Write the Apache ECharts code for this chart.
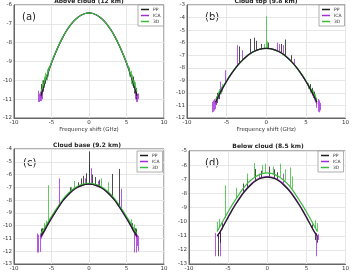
<!DOCTYPE html>
<html>
<head>
<meta charset="utf-8">
<script src="https://cdn.jsdelivr.net/npm/echarts@6/dist/echarts.min.js"></script>
<style>
	html, body { margin: 0; padding: 0; background: #fff; }
	#chart { width: 352px; height: 272px; }
</style>
</head>
<body>
<div id="chart"></div>
<script>
// frequency shift (GHz) sample points of the smooth spectra
const freq = [-6.4, -6, -5.5, -5, -4.5, -4, -3.5, -3, -2.5, -2, -1.5, -1, -0.5, 0, 0.5, 1, 1.5, 2, 2.5, 3, 3.5, 4, 4.5, 5, 5.5, 6, 6.4]

// (a) above cloud
const ppA = [-10.82, -10.26, -9.65, -9.07, -8.57, -8.12, -7.72, -7.37, -7.08, -6.84, -6.66, -6.53, -6.45, -6.42, -6.45, -6.53, -6.66, -6.84, -7.08, -7.37, -7.72, -8.12, -8.57, -9.07, -9.65, -10.26, -10.82]
const icaA = [-10.92, -10.3, -9.66, -9.08, -8.57, -8.12, -7.72, -7.37, -7.08, -6.84, -6.66, -6.53, -6.45, -6.42, -6.45, -6.53, -6.66, -6.84, -7.08, -7.37, -7.72, -8.12, -8.57, -9.08, -9.66, -10.3, -10.92]
const d3A = [-10.6, -10.15, -9.6, -9.05, -8.56, -8.11, -7.72, -7.37, -7.08, -6.84, -6.66, -6.53, -6.45, -6.42, -6.45, -6.53, -6.66, -6.84, -7.08, -7.37, -7.72, -8.11, -8.56, -9.05, -9.6, -10.15, -10.6]
// spikes: [shift, from, to]
const ppSpikesA = [[-6.3, -10.9, -10.2], [-6.1, -10.6, -10.0], [-5.9, -10.3, -9.9], [5.9, -10.4, -9.8], [6.1, -10.7, -10.1], [6.3, -11.0, -10.4]]
const icaSpikesA = [[-6.8, -11.15, -10.55], [-6.6, -11.15, -10.7], [-6.45, -11.1, -10.6], [-6.3, -11.1, -10.7], [-6.2, -11.0, -10.6], [6.2, -11.0, -10.6], [6.35, -11.15, -10.6], [6.5, -11.15, -10.7], [6.6, -11.0, -10.7]]
const d3SpikesA = [[-6.2, -10.6, -10.0], [-6.0, -10.4, -9.8], [-5.8, -10.2, -9.6], [-5.6, -10.0, -9.4], [-5.4, -9.8, -9.3], [5.4, -9.8, -9.3], [5.6, -10.2, -9.5], [5.8, -10.3, -9.7], [6.0, -10.6, -10.0], [6.2, -10.6, -10.1]]

// (b) cloud top
const ppB = [-10.75, -10.22, -9.62, -9.07, -8.57, -8.12, -7.73, -7.39, -7.1, -6.86, -6.68, -6.55, -6.47, -6.45, -6.47, -6.55, -6.68, -6.86, -7.1, -7.39, -7.73, -8.12, -8.57, -9.07, -9.62, -10.22, -10.75]
const icaB = [-10.9, -10.3, -9.65, -9.08, -8.58, -8.12, -7.73, -7.39, -7.1, -6.86, -6.68, -6.55, -6.47, -6.45, -6.47, -6.55, -6.68, -6.86, -7.1, -7.39, -7.73, -8.12, -8.58, -9.08, -9.65, -10.3, -10.9]
const d3B = [-10.55, -10.1, -9.55, -9.03, -8.55, -8.11, -7.73, -7.39, -7.1, -6.87, -6.69, -6.56, -6.48, -6.46, -6.48, -6.56, -6.69, -6.87, -7.1, -7.39, -7.73, -8.11, -8.55, -9.03, -9.55, -10.1, -10.55]
const ppSpikesB = [[-6.3, -10.95, -10.3], [-6.15, -10.8, -10.0], [-5.95, -10.5, -9.9], [-3.45, -7.7, -6.3], [-2.0, -6.86, -5.7], [-1.55, -6.68, -5.6], [-1.2, -6.6, -5.85], [-0.6, -6.48, -6.1], [0.3, -6.46, -6.0], [1.95, -6.85, -6.1], [2.4, -7.05, -5.75], [3.2, -7.5, -7.0], [5.5, -9.62, -9.3], [5.75, -10.2, -9.6], [6.0, -10.5, -9.9]]
const icaSpikesB = [[-6.85, -11.55, -10.7], [-6.7, -11.5, -10.6], [-6.55, -11.4, -10.5], [-6.4, -11.3, -10.6], [-5.75, -9.95, -9.1], [-5.2, -9.3, -8.2], [-3.6, -7.85, -6.2], [-3.0, -7.4, -6.6], [1.35, -6.62, -6.0], [1.6, -6.7, -6.1], [2.1, -6.9, -6.2], [3.5, -7.73, -7.3], [6.3, -11.2, -10.4], [6.5, -11.5, -10.5], [6.65, -11.55, -10.6], [6.8, -11.4, -10.8]]
const d3SpikesB = [[0.0, -6.46, -3.9], [0.15, -6.46, -5.9], [-0.25, -6.47, -6.1], [-6.1, -10.5, -9.9], [-5.9, -10.3, -9.7], [-5.7, -10.1, -9.5], [-5.5, -9.9, -9.3], [5.3, -9.7, -9.2], [5.6, -10.0, -9.5], [5.9, -10.4, -9.8], [6.2, -10.7, -10.1]]

// (c) cloud base
const ppC = [-10.85, -10.45, -9.92, -9.42, -8.95, -8.5, -8.07, -7.72, -7.42, -7.18, -7.0, -6.87, -6.78, -6.75, -6.78, -6.87, -7.0, -7.18, -7.42, -7.72, -8.07, -8.5, -8.95, -9.42, -9.92, -10.45, -10.85]
const icaC = [-10.95, -10.5, -9.95, -9.44, -8.96, -8.5, -8.07, -7.72, -7.42, -7.18, -7.0, -6.87, -6.78, -6.75, -6.78, -6.87, -7.0, -7.18, -7.42, -7.72, -8.07, -8.5, -8.96, -9.44, -9.95, -10.5, -10.95]
const d3C = [-10.6, -10.25, -9.75, -9.28, -8.82, -8.38, -7.96, -7.62, -7.33, -7.1, -6.92, -6.79, -6.71, -6.68, -6.71, -6.79, -6.92, -7.1, -7.33, -7.62, -7.96, -8.38, -8.82, -9.28, -9.75, -10.25, -10.6]
const ppSpikesC = [[0.0, -6.75, -4.2], [-0.3, -6.76, -5.9], [-0.7, -6.8, -6.1], [-1.0, -6.87, -6.3], [-1.4, -6.97, -6.6], [0.5, -6.78, -6.0], [0.9, -6.85, -6.2], [1.4, -6.97, -6.4], [3.13, -7.8, -5.95], [3.99, -8.5, -5.56], [-2.5, -7.42, -7.0], [-6.4, -10.85, -10.3], [-6.2, -10.7, -10.2], [5.8, -10.25, -9.8], [6.2, -10.7, -10.2], [6.35, -10.85, -10.3]]
const icaSpikesC = [[-3.9, -8.45, -6.3], [0.35, -6.77, -5.5], [-0.5, -6.78, -6.3], [1.2, -6.92, -6.5], [4.3, -8.8, -7.1], [-6.85, -12.1, -10.6], [-6.7, -12.1, -10.7], [-6.55, -12.05, -10.6], [-6.4, -11.0, -10.6], [6.1, -12.1, -10.5], [6.3, -12.1, -10.6], [6.45, -11.6, -10.7], [6.6, -12.0, -10.8]]
const d3SpikesC = [[-5.44, -9.6, -6.83], [-2.4, -7.37, -6.96], [0.05, -6.68, -5.2], [-1.9, -7.08, -6.5], [1.7, -6.98, -6.3], [2.6, -7.38, -6.6], [-6.3, -10.7, -10.2], [-6.0, -10.35, -9.8], [-5.7, -10.1, -9.6], [5.7, -10.1, -9.5], [6.0, -10.4, -9.9], [6.3, -10.7, -10.2]]

// (d) below cloud
const ppD = [-11.0, -10.7, -10.2, -9.7, -9.2, -8.75, -8.33, -7.95, -7.62, -7.35, -7.13, -6.97, -6.88, -6.85, -6.88, -6.97, -7.13, -7.35, -7.62, -7.95, -8.33, -8.75, -9.2, -9.7, -10.2, -10.7, -11.0]
const icaD = [-11.05, -10.72, -10.18, -9.66, -9.16, -8.7, -8.28, -7.9, -7.57, -7.3, -7.08, -6.93, -6.84, -6.81, -6.84, -6.93, -7.08, -7.3, -7.57, -7.9, -8.28, -8.7, -9.16, -9.66, -10.18, -10.72, -11.05]
const d3D = [-10.7, -10.3, -9.8, -9.3, -8.83, -8.4, -7.98, -7.6, -7.28, -7.02, -6.82, -6.67, -6.58, -6.55, -6.58, -6.67, -6.82, -7.02, -7.28, -7.6, -7.98, -8.4, -8.83, -9.3, -9.8, -10.3, -10.7]
const ppSpikesD = [[-3.05, -7.95, -7.3], [-1.56, -7.1, -6.27], [0.3, -6.86, -6.1], [0.9, -6.95, -6.3], [1.3, -7.02, -6.5], [-0.8, -6.93, -6.4], [-2.5, -7.62, -7.0], [-6.3, -12.45, -10.9], [-6.05, -11.5, -10.7], [-5.8, -10.55, -10.1], [5.8, -10.55, -10.2], [6.15, -11.3, -10.8], [6.4, -11.5, -11.0]]
const icaSpikesD = [[-6.6, -12.45, -10.8], [-6.2, -11.2, -10.8], [-6.0, -12.45, -10.7], [-1.0, -6.98, -6.6], [2.0, -7.3, -6.6], [6.23, -12.45, -10.8], [6.5, -11.3, -10.9]]
const d3SpikesD = [[-1.7, -6.9, -5.86], [-0.2, -6.56, -5.9], [-0.6, -6.6, -6.0], [0.8, -6.65, -6.1], [1.6, -6.85, -5.9], [2.25, -7.1, -6.3], [2.92, -7.55, -6.16], [3.2, -7.7, -6.8], [-2.6, -7.35, -6.6], [-4.0, -8.4, -7.6], [-5.4, -9.75, -7.43], [-6.4, -10.7, -10.0], [-6.1, -10.45, -9.8], [6.1, -10.45, -9.9], [6.4, -10.7, -10.1]]

const titles = ["Above cloud (12 km)", "Cloud top (9.8 km)", "Cloud base (9.2 km)", "Below cloud (8.5 km)"]
const tags = ["(a)", "(b)", "(c)", "(d)"]
const yMins = [-12, -12, -13, -13]
const yMaxs = [-6, -3, -4, -5]
const legendNames = ["PP", "ICA", "3D"]

const panels = [
	{ pp: ppA, ica: icaA, d3: d3A, ppSpk: ppSpikesA, icaSpk: icaSpikesA, d3Spk: d3SpikesA, order: ["ica", "pp", "d3"] },
	{ pp: ppB, ica: icaB, d3: d3B, ppSpk: ppSpikesB, icaSpk: icaSpikesB, d3Spk: d3SpikesB, order: ["ica", "d3", "pp"] },
	{ pp: ppC, ica: icaC, d3: d3C, ppSpk: ppSpikesC, icaSpk: icaSpikesC, d3Spk: d3SpikesC, order: ["ica", "d3", "pp"] },
	{ pp: ppD, ica: icaD, d3: d3D, ppSpk: ppSpikesD, icaSpk: icaSpikesD, d3Spk: d3SpikesD, order: ["ica", "pp", "d3"] }
]

// layout
const grids = [
	{ left: 11, top: 5, width: 153, height: 113 },
	{ left: 187, top: 5, width: 159, height: 113 },
	{ left: 11, top: 149, width: 153, height: 117 },
	{ left: 189, top: 151, width: 157, height: 115 }
]
const titlePos = [[89, -2], [266, -2], [87, 142], [268, 143]]
const tagPos = [[22, 12], [205, 12], [23, 158], [205, 158]]
const legendPos = [[138, 5], [319, 5], [137, 151], [318, 151]]

const names = { pp: "PP", ica: "ICA", d3: "3D" }
const colors = { pp: "#1e1e1e", ica: "#a12fd8", d3: "#3dbb3d" }
const font = "DejaVu Sans"
const axisColor = "#666"
const gridColor = "#e6e6e6"

let xAxis = []
let yAxis = []
let legend = []
let graphic = []
let series = []

grids.forEach((g, i) => {
	xAxis.push({
		type: "value",
		gridIndex: i,
		min: -10,
		max: 10,
		interval: 5,
		name: i < 2 ? "Frequency shift (GHz)" : "",
		nameLocation: "middle",
		nameGap: 9,
		nameTextStyle: { fontSize: 5.5, color: "#333", fontFamily: font },
		axisLine: { onZero: false, lineStyle: { color: axisColor } },
		axisTick: { show: false },
		axisLabel: { fontSize: 5.5, color: "#333", margin: 2, fontFamily: font },
		splitLine: { lineStyle: { color: gridColor } }
	})
	yAxis.push({
		type: "value",
		gridIndex: i,
		min: yMins[i],
		max: yMaxs[i],
		interval: 1,
		axisLine: { show: true, onZero: false, lineStyle: { color: axisColor } },
		axisTick: { show: false },
		axisLabel: { fontSize: 5.5, color: "#333", margin: 2, fontFamily: font },
		splitLine: { lineStyle: { color: gridColor } }
	})
	legend.push({
		data: legendNames,
		orient: "vertical",
		left: legendPos[i][0],
		top: legendPos[i][1],
		padding: [2, 3],
		itemGap: 1,
		itemWidth: 8,
		itemHeight: 1.5,
		icon: "rect",
		borderColor: "#999",
		borderWidth: 0.8,
		backgroundColor: "#fff",
		textStyle: { fontSize: 4.5, color: "#333", fontFamily: font, padding: [0, 0, 0, -1] }
	})
	graphic.push({
		type: "text",
		x: titlePos[i][0],
		y: titlePos[i][1],
		style: { text: titles[i], font: "bold 6px " + font, fill: "#222", textAlign: "center", textVerticalAlign: "top" }
	})
	graphic.push({
		type: "text",
		x: tagPos[i][0],
		y: tagPos[i][1],
		style: { text: tags[i], font: "10px " + font, fill: "#222", textAlign: "left", textVerticalAlign: "top" }
	})

	const p = panels[i]
	for (let key of p.order) {
		series.push({
			type: "line",
			name: names[key],
			xAxisIndex: i,
			yAxisIndex: i,
			data: freq.map((f, j) => [f, p[key][j]]),
			showSymbol: false,
			smooth: 0.3,
			color: colors[key],
			lineStyle: { width: 1.2 }
		})
		series.push({
			type: "lines",
			name: names[key],
			coordinateSystem: "cartesian2d",
			xAxisIndex: i,
			yAxisIndex: i,
			data: p[key + "Spk"].map(s => ({ coords: [[s[0], s[1]], [s[0], s[2]]] })),
			lineStyle: { color: colors[key], width: 0.8, opacity: 1 }
		})
	}
})

const option = {
	animation: false,
	backgroundColor: "#fff",
	grid: grids.map(g => Object.assign({ show: true, borderColor: axisColor, borderWidth: 1, backgroundColor: "transparent" }, g)),
	xAxis,
	yAxis,
	legend,
	graphic,
	series
}

const chart = echarts.init(document.getElementById("chart"))
chart.setOption(option)
</script>
</body>
</html>
